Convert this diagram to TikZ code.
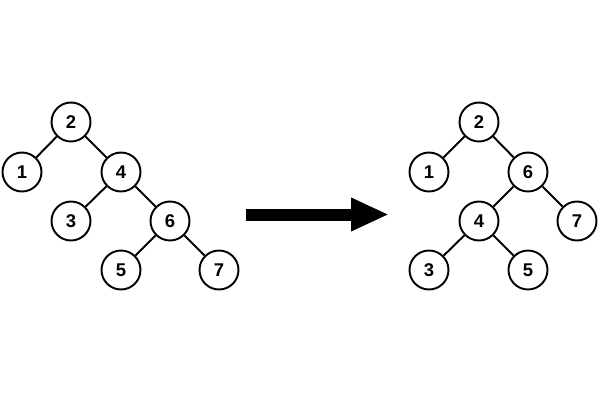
\documentclass[tikz,border=0pt]{standalone}
\usepackage{fontspec}
\setmainfont{Liberation Sans}
\usetikzlibrary{arrows.meta}
\definecolor{LineClr}{RGB}{0,0,0}

\begin{document}
\begin{tikzpicture}[x=0.02cm,y=-0.02cm,
  vertex/.style={circle,draw=LineClr,line width=1.1pt,minimum size=0.78cm,inner sep=0pt,
    font=\bfseries\fontsize{10.5}{12}\selectfont},
  edge/.style={line width=1.1pt,color=LineClr}]
\useasboundingbox (0,0) rectangle (600,400);

% tree before the rotation
\node[vertex] (L2) at (71,122) {2};
\node[vertex] (L1) at (22,172) {1};
\node[vertex] (L4) at (121,172) {4};
\node[vertex] (L3) at (71,221) {3};
\node[vertex] (L6) at (170,221) {6};
\node[vertex] (L5) at (121,270) {5};
\node[vertex] (L7) at (219,270) {7};
\draw[edge] (L2) -- (L1) (L2) -- (L4) (L4) -- (L3) (L4) -- (L6) (L6) -- (L5) (L6) -- (L7);

% tree after the rotation
\node[vertex] (R2) at (479,122) {2};
\node[vertex] (R1) at (429,172) {1};
\node[vertex] (R6) at (528,172) {6};
\node[vertex] (R4) at (479,221) {4};
\node[vertex] (R7) at (577,221) {7};
\node[vertex] (R3) at (429,270) {3};
\node[vertex] (R5) at (528,270) {5};
\draw[edge] (R2) -- (R1) (R2) -- (R6) (R6) -- (R4) (R6) -- (R7) (R4) -- (R3) (R4) -- (R5);

% arrow
\coordinate (ArrFrom) at (246,214.5);
\coordinate (ArrTo) at (389,214.5);
\draw[line width=0.24cm,color=LineClr,-{Triangle[length=0.76cm,width=0.62cm]}] (ArrFrom) -- (ArrTo);

\end{tikzpicture}
\end{document}
